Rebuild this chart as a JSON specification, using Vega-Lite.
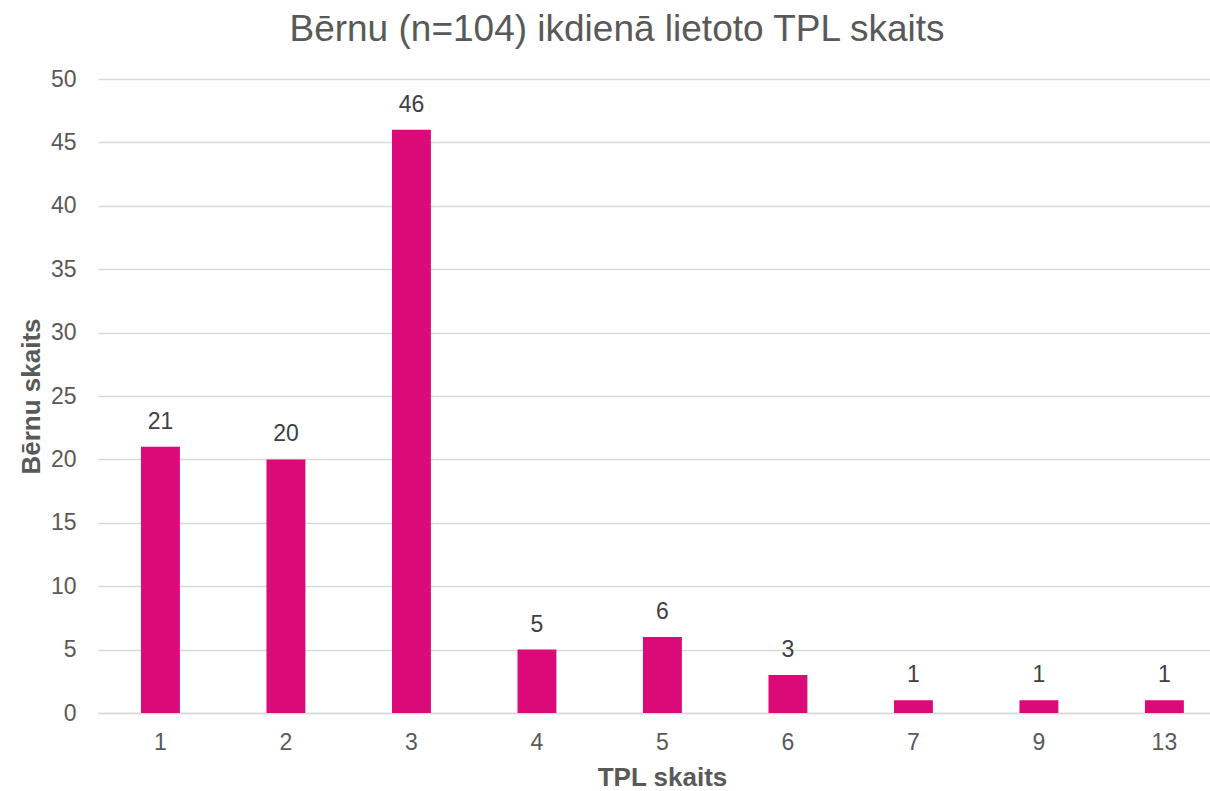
{
  "$schema": "https://vega.github.io/schema/vega-lite/v6.json",
  "width": 1112,
  "height": 634,
  "autosize": "none",
  "padding": {"left": 98, "top": 79, "right": 0, "bottom": 78},
  "background": "white",
  "title": {
    "text": "Bērnu (n=104) ikdienā lietoto TPL skaits",
    "font": "Liberation Sans",
    "fontSize": 37,
    "fontWeight": "normal",
    "color": "#595959",
    "anchor": "middle",
    "dx": -37,
    "dy": 38,
    "baseline": "alphabetic",
    "offset": 28
  },
  "data": {
    "values": [
      {"tpl": "1", "count": 21},
      {"tpl": "2", "count": 20},
      {"tpl": "3", "count": 46},
      {"tpl": "4", "count": 5},
      {"tpl": "5", "count": 6},
      {"tpl": "6", "count": 3},
      {"tpl": "7", "count": 1},
      {"tpl": "9", "count": 1},
      {"tpl": "13", "count": 1}
    ]
  },
  "config": {
    "view": {"stroke": null},
    "font": "Liberation Sans"
  },
  "encoding": {
    "x": {
      "field": "tpl",
      "type": "ordinal",
      "sort": null,
      "scale": {"paddingInner": 0.69, "paddingOuter": 0.2754, "align": 0.622},
      "axis": {
        "title": "TPL skaits",
        "titleFont": "Liberation Sans",
        "titleFontSize": 26,
        "titleFontWeight": "bold",
        "titleColor": "#595959",
        "titlePadding": 10,
        "titleX": 564,
        "labelFont": "Liberation Sans",
        "labelFontSize": 23,
        "labelColor": "#595959",
        "labelAngle": 0,
        "labelPadding": 18,
        "ticks": false,
        "tickSize": 0,
        "domain": true,
        "domainColor": "#d9d9d9",
        "domainWidth": 1.5,
        "grid": false
      }
    },
    "y": {
      "field": "count",
      "type": "quantitative",
      "scale": {"domain": [0, 50], "nice": false},
      "axis": {
        "title": "Bērnu skaits",
        "titleFont": "Liberation Sans",
        "titleFontSize": 26,
        "titleFontWeight": "bold",
        "titleColor": "#595959",
        "titlePadding": 6,
        "labelFont": "Liberation Sans",
        "labelFontSize": 23,
        "labelColor": "#595959",
        "labelPadding": 22,
        "values": [0, 5, 10, 15, 20, 25, 30, 35, 40, 45, 50],
        "ticks": false,
        "tickSize": 0,
        "domain": false,
        "grid": true,
        "gridColor": "#d9d9d9",
        "gridWidth": 1.5
      }
    }
  },
  "layer": [
    {
      "mark": {"type": "bar", "color": "#DC0A78"}
    },
    {
      "mark": {"type": "text", "baseline": "alphabetic", "dy": -18, "fontSize": 23, "color": "#404040", "font": "Liberation Sans"},
      "encoding": {"text": {"field": "count", "type": "quantitative"}}
    }
  ]
}
